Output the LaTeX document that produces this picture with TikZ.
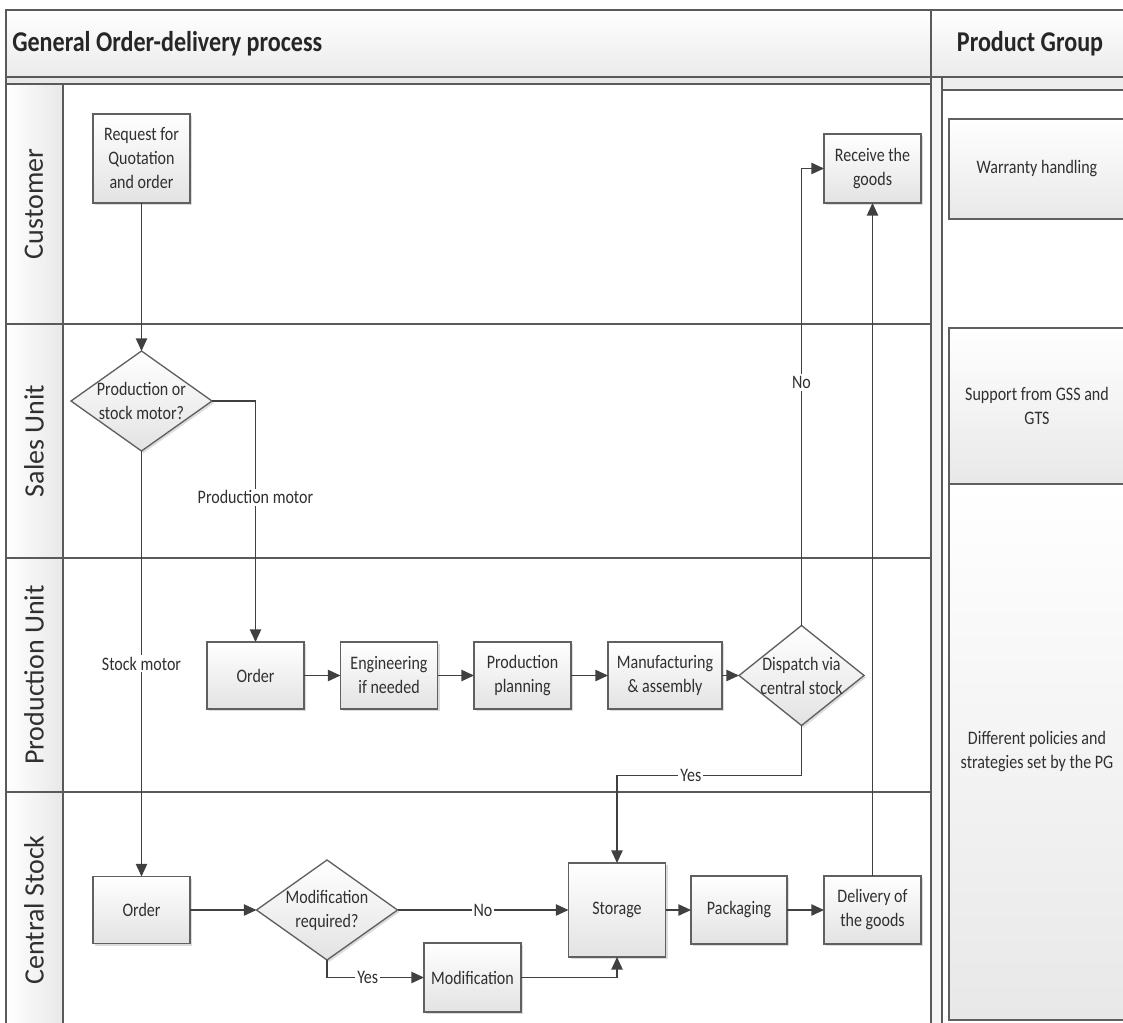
\documentclass[tikz,border=0pt]{standalone}
\usepackage{fontspec}
\setmainfont{Carlito}[FakeStretch=0.84]
\newfontfamily\lanefont{Carlito}
\usetikzlibrary{arrows.meta,shapes.geometric,shadows}

\definecolor{linec}{HTML}{404040}
\definecolor{lanec}{HTML}{5A5A5A}
\definecolor{boxb}{HTML}{606060}
\definecolor{textc}{HTML}{303030}

\newcommand\bodyfont{\fontsize{14.3}{18}\selectfont}
\newcommand\headfont{\fontsize{21.5}{25}\selectfont\bfseries}
\newcommand\lanelabelfont{\lanefont\fontsize{21}{25}\selectfont}

\tikzset{
  conn/.style={draw=linec, line width=1.1pt, -{Triangle[length=9.5pt,width=8.5pt]}},
  lanes/.style={draw=lanec, line width=1.3pt},
  bx/.style 2 args={rectangle, draw=boxb, line width=1pt, top color=white,
    bottom color=black!11, minimum width=#1*0.75pt, minimum height=#2*0.75pt,
    inner sep=0pt, outer sep=0pt, align=center, text=textc, font=\bodyfont,
    drop shadow={shadow xshift=1.5pt, shadow yshift=-1.5pt, fill=black!30, opacity=0.45}},
  dec/.style 2 args={diamond, draw=boxb, line width=1pt, top color=white,
    bottom color=black!11, minimum width=#1*0.75pt, minimum height=#2*0.75pt,
    inner sep=0pt, outer sep=0pt,
    drop shadow={shadow xshift=1.5pt, shadow yshift=-1.5pt, fill=black!30, opacity=0.45}},
  dectext/.style={align=center, text=textc, font=\bodyfont, inner sep=0pt},
  lbl/.style={fill=white, inner sep=1.5pt, text=textc, font=\bodyfont},
  panel/.style={draw=boxb, line width=1pt, top color=white, bottom color=black!9},
  lanetitle/.style={rotate=90, text=textc, font=\lanelabelfont, inner sep=0pt},
}

\begin{document}
\begin{tikzpicture}[x=0.75pt, y=-0.75pt]
\useasboundingbox (0,0) rectangle (1123,1023);
\clip (0,0) rectangle (1123,1023);

% ---------- pool frame ----------
% header band
\shade[top color=white, bottom color=black!8] (6,10) rectangle (1130,77);
% thin strips under the header
\fill[black!9] (6,77) rectangle (931,84);
\fill[black!7] (942,77) rectangle (1130,90);
\fill[black!4] (931,77) rectangle (942,1040);
% lane title column
\shade[left color=white, right color=black!9] (6,84) rectangle (63,1040);

\draw[lanes] (6,10) rectangle (1130,77);
\draw[lanes] (931,10) -- (931,1040);
\draw[lanes] (942,77) -- (942,1040);
\draw[lanes] (942,90) -- (1130,90);
\draw[lanes] (6,84) -- (931,84);
\draw[lanes] (6,77) -- (6,1040);
\draw[lanes] (63,84) -- (63,1040);
\draw[lanes] (6,324) -- (931,324);
\draw[lanes] (6,558) -- (931,558);
\draw[lanes] (6,792) -- (931,792);

% headings
\node[anchor=west, text=black!85, font=\headfont, inner sep=0pt] (title) at (12,44) {General Order-delivery process};
\node[text=black!85, font=\headfont, inner sep=0pt] (pgtitle) at (1030,44) {Product Group};

% lane titles
\node[lanetitle] (lcust) at (34,204) {Customer};
\node[lanetitle] (lsales) at (34,441) {Sales Unit};
\node[lanetitle] (lprod) at (34,675) {Production Unit};
\node[lanetitle] (lstock) at (34,910) {Central Stock};

% product group column
\draw[panel] (949,119) rectangle (1130,219);
\node[text=textc, font=\bodyfont, align=center] (pg1) at (1037,169) {Warranty handling};
\draw[panel] (949,328) rectangle (1130,484);
\node[text=textc, font=\bodyfont, align=center] (pg2) at (1037,406) {Support from GSS and\\GTS};
\draw[panel] (949,484) rectangle (1130,1020);
\node[text=textc, font=\bodyfont, align=center] (pg3) at (1037,752) {Different policies and\\strategies set by the PG};

% ---------- process steps ----------
\node[bx={97}{89}] (rq) at (141.5,158.5) {Request for\\Quotation\\and order};
\node[bx={97}{69}] (rcv) at (872.5,168.5) {Receive the\\goods};

\node[dec={141}{100}] (d1) at (141.5,401) {};
\node[dectext] (d1t) at (d1) {Production or\\stock motor?};

\node[bx={97}{67}] (po) at (255.5,675.5) {Order};
\node[bx={97}{67}] (eng) at (389,675.5) {Engineering\\if needed};
\node[bx={97}{67}] (pp) at (522.5,675.5) {Production\\planning};
\node[bx={114}{67}] (mfg) at (665,675.5) {Manufacturing\\\& assembly};
\node[dec={125}{100}] (dsp) at (801.5,675.5) {};
\node[dectext] (dspt) at (dsp) {Dispatch via\\central stock};

\node[bx={97}{67}] (cso) at (141.5,910) {Order};
\node[dec={141}{100}] (mr) at (327,910) {};
\node[dectext] (mrt) at (mr) {Modification\\required?};
\node[bx={97}{69}] (mod) at (472.5,977.5) {Modification};
\node[bx={97}{94}] (st) at (617,910) {Storage};
\node[bx={96}{68}] (pk) at (739,910) {Packaging};
\node[bx={97}{68}] (dl) at (872.5,910) {Delivery of\\the goods};

% ---------- flows ----------
\draw[conn] (rq.south) -- (d1.north);
\draw[conn] (d1.east) -| (po.north) node[lbl, pos=0.70] {Production motor};
\draw[conn] (d1.south) -- (cso.north) node[lbl, pos=0.5] {Stock motor};
\draw[conn] (po.east) -- (eng.west);
\draw[conn] (eng.east) -- (pp.west);
\draw[conn] (pp.east) -- (mfg.west);
\draw[conn] (mfg.east) -- (dsp.west);
\draw[conn] (dsp.north) |- (rcv.west) node[lbl, pos=0.266] {No};
\draw[conn] (dsp.south) -- ++(0,50) -| (st.north) node[lbl, pos=0.3] {Yes};
\draw[conn] (cso.east) -- (mr.west);
\draw[conn] (mr.east) -- (st.west) node[lbl, pos=0.5] {No};
\draw[conn] (mr.south) |- (mod.west) node[lbl, pos=0.71] {Yes};
\draw[conn] (mod.east) -| (st.south);
\draw[conn] (st.east) -- (pk.west);
\draw[conn] (pk.east) -- (dl.west);
\draw[conn] (dl.north) -- (rcv.south);
\end{tikzpicture}
\end{document}
